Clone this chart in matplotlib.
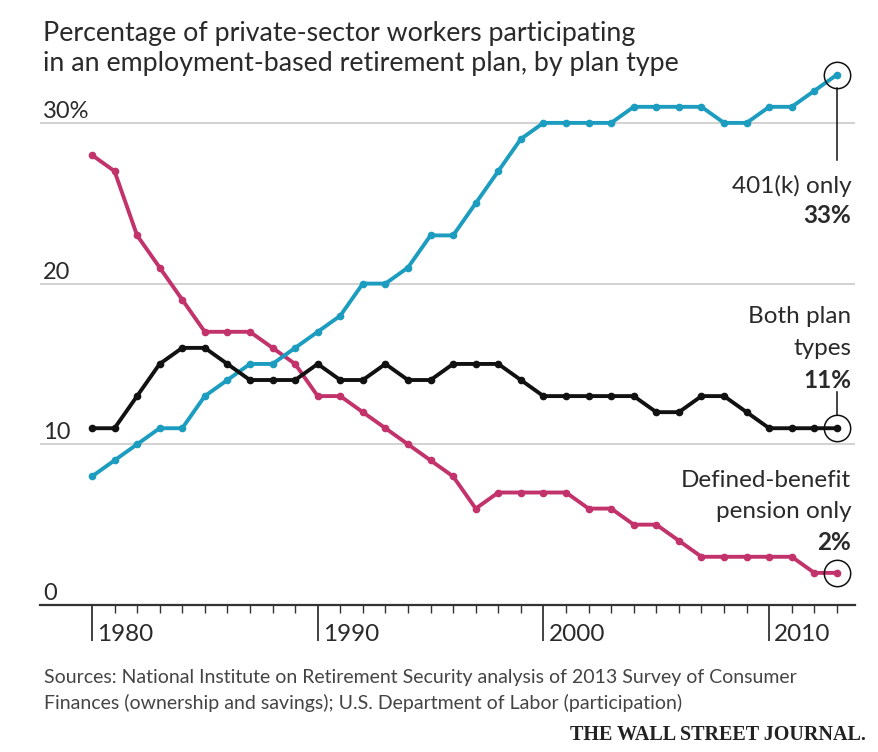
import matplotlib.pyplot as plt
from matplotlib.transforms import blended_transform_factory

years = list(range(1980, 2014))
k401_only = [8, 9, 10, 11, 11, 13, 14, 15, 15, 16, 17, 18, 20, 20, 21, 23, 23, 25, 27, 29,
             30, 30, 30, 30, 31, 31, 31, 31, 30, 30, 31, 31, 32, 33]
both_types = [11, 11, 13, 15, 16, 16, 15, 14, 14, 14, 15, 14, 14, 15, 14, 14, 15, 15, 15, 14,
              13, 13, 13, 13, 13, 12, 12, 13, 13, 12, 11, 11, 11, 11]
db_only = [28, 27, 23, 21, 19, 17, 17, 17, 16, 15, 13, 13, 12, 11, 10, 9, 8, 6, 7, 7,
           7, 7, 6, 6, 5, 5, 4, 3, 3, 3, 3, 3, 2, 2]
grid_vals = [10, 20, 30]
grid_labels = ["10", "20", "30%"]
decades = [1980, 1990, 2000, 2010]

FONT = ["Lato", "DejaVu Sans"]
PINK = "#c2336b"
CYAN = "#1c9dc0"
INK = "#111111"
TXT = "#2a2a2a"

fig = plt.figure(figsize=(8.79, 7.52), dpi=100)
ax = fig.add_axes([40 / 879, 147 / 752, 815 / 879, 35 * 16.07 / 752])
ax.set_xlim(1977.7, 2013.8)
ax.set_ylim(0, 35)

for v in grid_vals:
    ax.axhline(v, color="#cfcfcf", lw=1.3, zorder=1)

for vals, col in [(db_only, PINK), (k401_only, CYAN), (both_types, INK)]:
    ax.plot(years, vals, color=col, lw=2.8, marker="o", ms=4.5, mfc=col, mec=col,
            zorder=3, solid_joinstyle="round")

# end-point rings
for vals in (k401_only, both_types, db_only):
    ax.plot(years[-1], vals[-1], marker="o", ms=19, mfc="none", mec=INK, mew=1.1, zorder=4)

# leader lines
ax.plot([years[-1], years[-1]], [k401_only[-1] - 0.85, 27.7], color=INK, lw=1.1, zorder=4)
ax.plot([years[-1], years[-1]], [both_types[-1] + 0.85, 13.25], color=INK, lw=1.1, zorder=4)

for s in ("top", "right", "left"):
    ax.spines[s].set_visible(False)
ax.spines["bottom"].set_color("#333333")
ax.spines["bottom"].set_linewidth(1.6)
ax.set_yticks([])
ax.set_xticks(decades)
ax.set_xticks(years, minor=True)
ax.tick_params(axis="x", which="major", length=26, width=1.3, color="#333333", labelbottom=False)
ax.tick_params(axis="x", which="minor", length=5.5, width=1.0, color="#333333")

# y labels above gridlines
for v, lab in zip([0] + grid_vals, ["0"] + grid_labels):
    ax.text(1977.83, v + 0.3, lab, fontsize=17, family=FONT, color=TXT, va="baseline", ha="left")

# decade labels to the right of long ticks
trans = blended_transform_factory(ax.transData, fig.transFigure)
for d in decades:
    ax.text(d + 0.22, (752 - 641) / 752, str(d), fontsize=17.5, family=FONT, color=TXT,
            va="baseline", ha="left", transform=trans)

# series labels
xr = years[-1] + 0.63
def lab(y, s, bold=False):
    ax.text(xr, (605 - y) / 16.07, s, fontsize=17.5, family=FONT, color=TXT, ha="right",
            va="baseline", fontweight="bold" if bold else "normal")

lab(193, "401(k) only")
lab(223, "33%", True)
lab(323, "Both plan")
lab(355, "types")
lab(388, "11%", True)
lab(487, "Defined-benefit")
lab(518, "pension only")
lab(550, "2%", True)

fig.text(43 / 879, 1 - 41 / 752, "Percentage of private-sector workers participating",
         fontsize=19.3, family=FONT, color=TXT, va="baseline")
fig.text(43 / 879, 1 - 71 / 752, "in an employment-based retirement plan, by plan type",
         fontsize=19.3, family=FONT, color=TXT, va="baseline")

fig.text(44 / 879, 1 - 683 / 752,
         "Sources: National Institute on Retirement Security analysis of 2013 Survey of Consumer",
         fontsize=14, family=FONT, color="#444444", va="baseline")
fig.text(44 / 879, 1 - 709 / 752,
         "Finances (ownership and savings); U.S. Department of Labor (participation)",
         fontsize=14, family=FONT, color="#444444", va="baseline")
fig.text(866 / 879, 1 - 740 / 752, "THE WALL STREET JOURNAL.", fontsize=14.5,
         family=["Liberation Serif", "DejaVu Serif"], fontweight="bold", color="#222222",
         va="baseline", ha="right")

fig.savefig("out.png", dpi=100)
